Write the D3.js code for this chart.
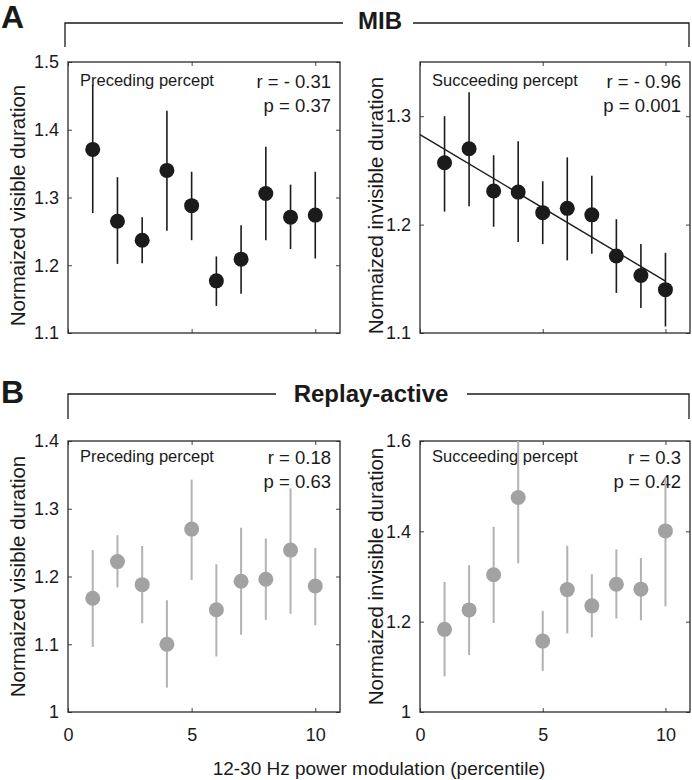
<!DOCTYPE html>
<html>
<head>
<meta charset="utf-8">
<script src="https://cdn.jsdelivr.net/npm/d3@7"></script>
<style>
  body { margin: 0; background: #fff; }
  svg { display: block; }
  text { font-family: "Liberation Sans", Arial, Helvetica, sans-serif; fill: #1a1a1a; }
</style>
</head>
<body>
<svg id="chart" width="692" height="780"></svg>
<script>
// ---------- data ----------
const percentiles = [1, 2, 3, 4, 5, 6, 7, 8, 9, 10];

// A, MIB, preceding percept (visible duration)
const mibPrecMean  = [1.371, 1.265, 1.237, 1.340, 1.288, 1.177, 1.209, 1.306, 1.271, 1.274];
const mibPrecUpper = [1.466, 1.330, 1.271, 1.428, 1.338, 1.213, 1.259, 1.375, 1.319, 1.338];
const mibPrecLower = [1.277, 1.202, 1.203, 1.251, 1.237, 1.140, 1.158, 1.237, 1.224, 1.210];

// A, MIB, succeeding percept (invisible duration)
const mibSuccMean  = [1.257, 1.270, 1.231, 1.230, 1.211, 1.215, 1.209, 1.171, 1.153, 1.140];
const mibSuccUpper = [1.300, 1.322, 1.264, 1.277, 1.240, 1.262, 1.245, 1.205, 1.182, 1.174];
const mibSuccLower = [1.212, 1.217, 1.198, 1.184, 1.182, 1.167, 1.173, 1.137, 1.123, 1.106];

// B, Replay-active, preceding percept
const repPrecMean  = [1.168, 1.222, 1.188, 1.100, 1.270, 1.151, 1.193, 1.196, 1.239, 1.186];
const repPrecUpper = [1.239, 1.261, 1.245, 1.165, 1.343, 1.218, 1.272, 1.256, 1.330, 1.242];
const repPrecLower = [1.096, 1.184, 1.131, 1.036, 1.195, 1.082, 1.114, 1.136, 1.145, 1.128];

// B, Replay-active, succeeding percept
const repSuccMean  = [1.183, 1.226, 1.304, 1.475, 1.157, 1.271, 1.235, 1.283, 1.272, 1.401];
const repSuccUpper = [1.288, 1.325, 1.410, 1.620, 1.224, 1.368, 1.305, 1.360, 1.341, 1.520];
const repSuccLower = [1.079, 1.126, 1.197, 1.329, 1.091, 1.174, 1.165, 1.207, 1.203, 1.234];

const xTicks = [0, 5, 10];
const yTicksMibPrec = [1.1, 1.2, 1.3, 1.4, 1.5];
const yTicksMibSucc = [1.1, 1.2, 1.3];
const yTicksRepPrec = [1, 1.1, 1.2, 1.3, 1.4];
const yTicksRepSucc = [1, 1.2, 1.4, 1.6];

const panelLabels = ["A", "B"];
const groupTitles = ["MIB", "Replay-active"];
const percepts = ["Preceding percept", "Succeeding percept"];
const yLabels = ["Normaized visible duration", "Normaized invisible duration"];
const stats = [["r = - 0.31", "p = 0.37"], ["r = - 0.96", "p = 0.001"], ["r = 0.18", "p = 0.63"], ["r = 0.3", "p = 0.42"]];
const xLabel = "12-30 Hz power modulation (percentile)";

// ---------- layout ----------
const svg = d3.select("#chart");
const BLACK = "#1b1b1b", GRAY_DOT = "#a2a2a2", GRAY_BAR = "#b2b2b2";

const panels = [
  { x0: 68,  x1: 340, y0: 62,  y1: 333, dom: [1.1, 1.5],  ticks: yTicksMibPrec, fmt: d3.format(".1f"), mean: mibPrecMean, up: mibPrecUpper, lo: mibPrecLower, dark: true,  pi: 0, stat: stats[0], tOff: 24, showX: false, fit: false },
  { x0: 420, x1: 690, y0: 62,  y1: 333, dom: [1.1, 1.35], ticks: yTicksMibSucc, fmt: d3.format(".1f"), mean: mibSuccMean, up: mibSuccUpper, lo: mibSuccLower, dark: true,  pi: 1, stat: stats[1], tOff: 24, showX: false, fit: true },
  { x0: 68,  x1: 340, y0: 441, y1: 712, dom: [1.0, 1.4],  ticks: yTicksRepPrec, fmt: d => d === 1 ? "1" : d3.format(".1f")(d), mean: repPrecMean, up: repPrecUpper, lo: repPrecLower, dark: false, pi: 0, stat: stats[2], tOff: 21, showX: true, fit: false },
  { x0: 420, x1: 690, y0: 441, y1: 712, dom: [1.0, 1.6],  ticks: yTicksRepSucc, fmt: d => d === 1 ? "1" : d3.format(".1f")(d), mean: repSuccMean, up: repSuccUpper, lo: repSuccLower, dark: false, pi: 1, stat: stats[3], tOff: 21, showX: true, fit: false }
];

panels.forEach((p, k) => {
  const x = d3.scaleLinear().domain([0, 11]).range([p.x0, p.x1]);
  const y = d3.scaleLinear().domain(p.dom).range([p.y1, p.y0]);
  const g = svg.append("g");

  const clipId = "clip" + k;
  svg.append("clipPath").attr("id", clipId).append("rect")
    .attr("x", p.x0).attr("y", p.y0).attr("width", p.x1 - p.x0).attr("height", p.y1 - p.y0);

  // axes with inward ticks
  const tickLen = 4;
  const axL = g.append("g").attr("transform", `translate(${p.x0},0)`)
    .call(d3.axisLeft(y).tickValues(p.ticks).tickFormat(p.fmt).tickSizeInner(-tickLen).tickSizeOuter(0).tickPadding(9));
  const axR = g.append("g").attr("transform", `translate(${p.x1},0)`)
    .call(d3.axisRight(y).tickValues(p.ticks).tickFormat("").tickSizeInner(-tickLen).tickSizeOuter(0));
  const axB = g.append("g").attr("transform", `translate(0,${p.y1})`)
    .call(d3.axisBottom(x).tickValues(xTicks).tickFormat(p.showX ? d3.format("d") : "").tickSizeInner(-tickLen).tickSizeOuter(0).tickPadding(16));
  const axT = g.append("g").attr("transform", `translate(0,${p.y0})`)
    .call(d3.axisTop(x).tickValues(xTicks).tickFormat("").tickSizeInner(-tickLen).tickSizeOuter(0));
  [axL, axR, axB, axT].forEach(a => {
    a.select(".domain").remove();
    a.selectAll(".tick line").attr("stroke", "#444").attr("stroke-width", 1);
    a.selectAll(".tick text").attr("font-size", 18).attr("fill", "#1a1a1a")
      .attr("font-family", '"Liberation Sans", Arial, Helvetica, sans-serif');
  });

  // box
  g.append("rect").attr("x", p.x0).attr("y", p.y0)
    .attr("width", p.x1 - p.x0).attr("height", p.y1 - p.y0)
    .attr("fill", "none").attr("stroke", "#2a2a2a").attr("stroke-width", 1.3);

  // y label
  const lx = p.x0 === 68 ? 25 : 383;
  g.append("text").attr("transform", `translate(${lx},${(p.y0 + p.y1) / 2 + (p.y0 < 100 ? 8 : 0)}) rotate(-90)`)
    .attr("text-anchor", "middle").attr("font-size", 20.5).text(yLabels[p.pi]);

  // inside texts
  g.append("text").attr("x", p.x0 + 12).attr("y", p.y0 + p.tOff).attr("font-size", 16.5).text(percepts[p.pi]);
  g.append("text").attr("x", p.x1 - 9).attr("y", p.y0 + p.tOff + 2).attr("text-anchor", "end").attr("font-size", 18.5).text(p.stat[0]);
  g.append("text").attr("x", p.x1 - 9).attr("y", p.y0 + p.tOff + 26).attr("text-anchor", "end").attr("font-size", 18.5).text(p.stat[1]);

  // regression line
  if (p.fit) {
    const n = percentiles.length;
    const mx = d3.mean(percentiles), my = d3.mean(p.mean);
    let sxy = 0, sxx = 0;
    percentiles.forEach((xi, i) => { sxy += (xi - mx) * (p.mean[i] - my); sxx += (xi - mx) * (xi - mx); });
    const b = sxy / sxx, a = my - b * mx;
    g.append("line").attr("x1", x(0)).attr("y1", y(a)).attr("x2", x(10)).attr("y2", y(a + b * 10))
      .attr("stroke", BLACK).attr("stroke-width", 1.4);
  }

  const data = percentiles.map((xi, i) => ({ x: xi, m: p.mean[i], u: p.up[i], l: p.lo[i] }));
  const marks = g.append("g").attr("clip-path", `url(#${clipId})`);
  marks.selectAll("line.err").data(data).join("line").attr("class", "err")
    .attr("x1", d => x(d.x)).attr("x2", d => x(d.x))
    .attr("y1", d => y(d.u)).attr("y2", d => y(d.l))
    .attr("stroke", p.dark ? BLACK : GRAY_BAR).attr("stroke-width", p.dark ? 1.6 : 2);
  marks.selectAll("circle").data(data).join("circle")
    .attr("cx", d => x(d.x)).attr("cy", d => y(d.m)).attr("r", 7.5)
    .attr("fill", p.dark ? BLACK : GRAY_DOT);
});

// group brackets
const brackets = [
  { xl: 65, xr: 689, y: 23, yb: 47, tx: 380, ty: 29, gl: 343, gr: 413, lab: 28 },
  { xl: 68, xr: 689, y: 394, yb: 419, tx: 371, ty: 402, gl: 276, gr: 467, lab: 403 }
];
brackets.forEach((b, i) => {
  const path = `M${b.xl},${b.yb}V${b.y}H${b.gl}M${b.gr},${b.y}H${b.xr}V${b.yb}`;
  svg.append("path").attr("d", path).attr("fill", "none").attr("stroke", "#1a1a1a").attr("stroke-width", 1.3);
  svg.append("text").attr("x", b.tx).attr("y", b.ty).attr("text-anchor", "middle")
    .attr("font-size", 24).attr("font-weight", "bold").text(groupTitles[i]);
  svg.append("text").attr("x", 1).attr("y", b.lab).attr("font-size", 32).attr("font-weight", "bold").text(panelLabels[i]);
});

// x label
svg.append("text").attr("x", 379).attr("y", 775).attr("text-anchor", "middle").attr("font-size", 19).text(xLabel);
</script>
</body>
</html>
